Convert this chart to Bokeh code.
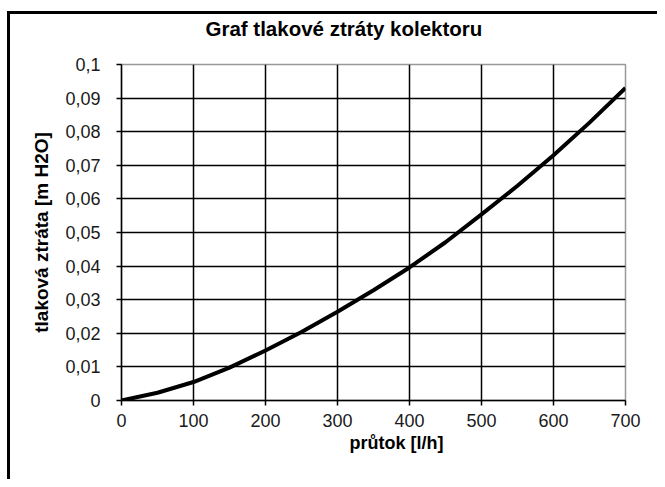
from bokeh.plotting import figure
from bokeh.models import Range1d, FixedTicker, Title, Div
from bokeh.layouts import column, row
from bokeh.embed import file_html
from bokeh.resources import INLINE

# data
flow = [0, 50, 100, 150, 200, 250, 300, 350, 400, 450, 500, 550, 600, 650, 700]
loss = [0, 0.0023, 0.0055, 0.0098, 0.0149, 0.0204, 0.0264, 0.0328, 0.0396,
        0.0471, 0.0554, 0.0639, 0.0730, 0.0827, 0.093]

x_ticks = [0, 100, 200, 300, 400, 500, 600, 700]
x_tick_labels = ["0", "100", "200", "300", "400", "500", "600", "700"]
y_ticks = [0, 0.01, 0.02, 0.03, 0.04, 0.05, 0.06, 0.07, 0.08, 0.09, 0.1]
y_tick_labels = ["0", "0,01", "0,02", "0,03", "0,04", "0,05", "0,06", "0,07",
                 "0,08", "0,09", "0,1"]

title_text = "Graf tlakové ztráty kolektoru"
x_label = "průtok [l/h]"
y_label = "tlaková ztráta [m H2O]"

FONT = "Liberation Sans"
TOTAL_W, TOTAL_H = 657, 479
BX, BY, BW = 7, 11, 3            # outer chart border: left x, top y, thickness
OX, OY = BX + BW, BY + BW        # where the inner area starts
W, H_ALL = TOTAL_W - OX, TOTAL_H - OY
TH = 36                          # height of the title strip
H = H_ALL - TH
PY = OY + TH                     # where the plot figure starts
FL, FT, FR, FB = 121 - OX, 64 - PY, 625 - OX, 400 - PY   # frame edges in figure pixels

# title strip (its frame is aligned with the plot frame by the column layout)
tf = figure(width=W, height=TH, output_backend="svg", toolbar_location=None,
            x_axis_location=None, y_axis_location=None,
            x_range=Range1d(0, 1), y_range=Range1d(0, 1),
            min_border_left=0, min_border_right=0,
            min_border_top=0, min_border_bottom=0)
tf.outline_line_color = None
tf.background_fill_color = "white"
tf.border_fill_color = "white"
tf.grid.grid_line_color = None
tf.grid.visible = False
tf.title = Title(text=title_text, align="left", offset=84, standoff=0,
                 text_font=FONT, text_font_style="bold", text_font_size="20.5px",
                 text_color="black")

p = figure(width=W, height=H, output_backend="svg", toolbar_location=None,
           x_range=Range1d(0, 700), y_range=Range1d(0, 0.1),
           min_border_left=FL, min_border_right=W - FR,
           min_border_top=FT, min_border_bottom=H - FB)

p.background_fill_color = "white"
p.border_fill_color = "white"
p.outline_line_color = "#999999"
p.outline_line_width = 1.5

p.line(flow, loss, line_color="black", line_width=4, line_join="round")

for ax in (p.xaxis[0], p.yaxis[0]):
    ax.axis_line_color = "black"
    ax.axis_line_width = 1.5
    ax.major_tick_line_color = "black"
    ax.major_tick_line_width = 1.5
    ax.major_tick_out = 5
    ax.major_tick_in = 0
    ax.minor_tick_line_color = None
    ax.major_label_text_font = FONT
    ax.major_label_text_font_size = "18px"
    ax.major_label_text_color = "#1a1a1a"

p.xaxis.ticker = FixedTicker(ticks=x_ticks)
p.xaxis.major_label_overrides = dict(zip(x_ticks, x_tick_labels))
p.yaxis.ticker = FixedTicker(ticks=y_ticks)
p.yaxis.major_label_overrides = dict(zip(y_ticks, y_tick_labels))
p.xaxis.major_label_standoff = 8
p.yaxis.major_label_standoff = 16

p.yaxis.axis_label = y_label
p.yaxis.axis_label_text_font = FONT
p.yaxis.axis_label_text_font_style = "bold"
p.yaxis.axis_label_text_font_size = "19px"
p.yaxis.axis_label_text_color = "black"
p.yaxis.axis_label_standoff = 10

p.add_layout(Title(text=x_label, align="left", offset=228, standoff=2,
                   text_font=FONT, text_font_style="bold", text_font_size="18px",
                   text_color="black"), "below")

p.xgrid.ticker = FixedTicker(ticks=x_ticks)
p.ygrid.ticker = FixedTicker(ticks=y_ticks)
p.xgrid.grid_line_color = "black"
p.ygrid.grid_line_color = "black"
p.xgrid.grid_line_width = 1.5
p.ygrid.grid_line_width = 1.5

# outer chart-area border (top and left edge; the rest lies outside the window)
top_gap = Div(text="", width=TOTAL_W, height=BY, margin=0)
top_bar = Div(text="", width=TOTAL_W - BX, height=BW, margin=0,
              styles={"background-color": "black"})
left_gap1 = Div(text="", width=BX, height=BW, margin=0)
left_gap2 = Div(text="", width=BX, height=H_ALL, margin=0)
left_bar = Div(text="", width=BW, height=H_ALL, margin=0,
               styles={"background-color": "black"})

layout = column(top_gap,
                row(left_gap1, top_bar, spacing=0, margin=0),
                row(left_gap2, left_bar,
                    column(tf, p, spacing=0, margin=0),
                    spacing=0, margin=0),
                spacing=0, margin=0)

open("out.html", "w").write(file_html(layout, INLINE))
